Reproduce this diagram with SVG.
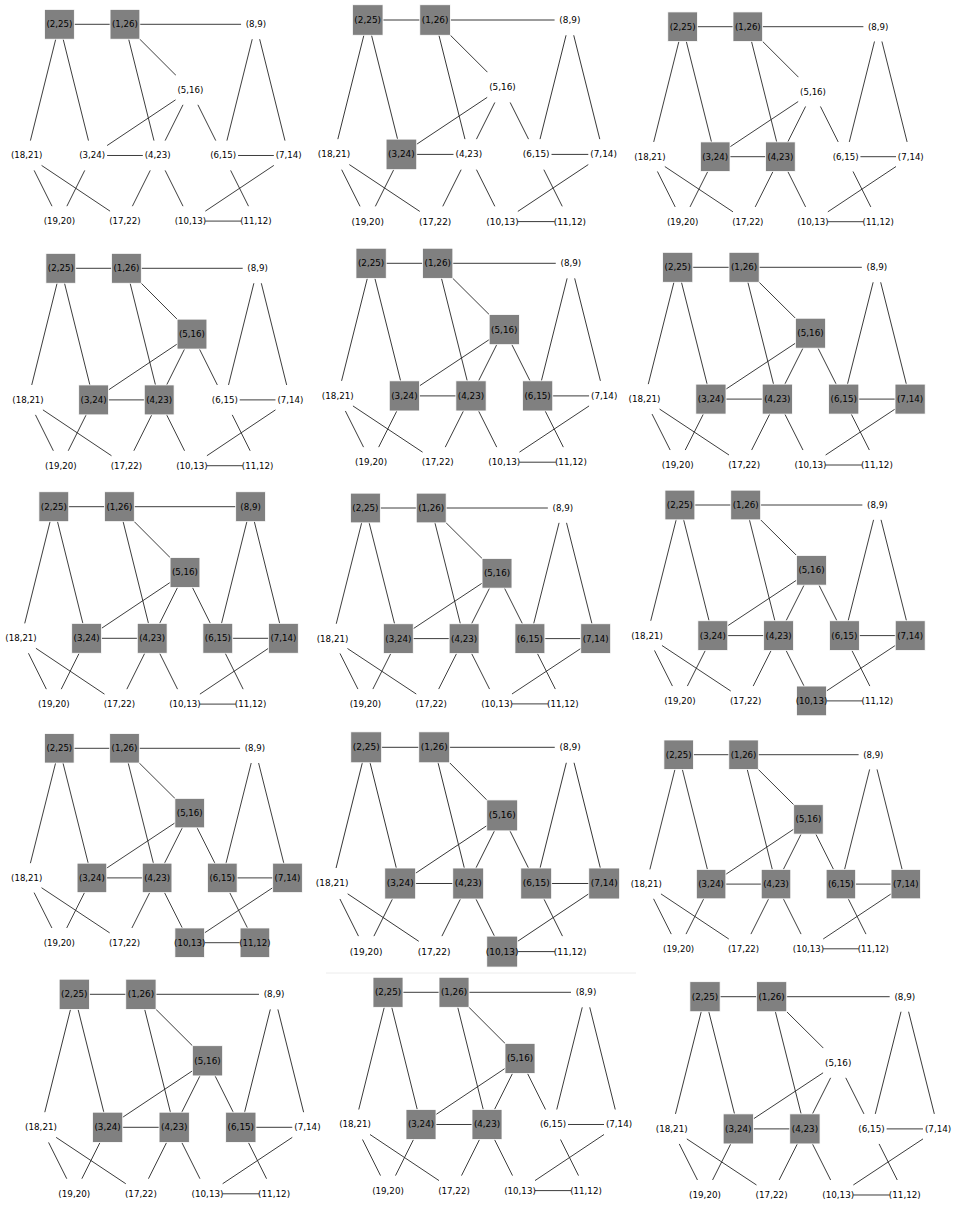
<svg xmlns="http://www.w3.org/2000/svg" width="955" height="1205" viewBox="0 0 955 1205">
<style>
.e line{stroke:#262626;stroke-width:0.9;fill:none}
.w{fill:#ffffff}
.g{fill:#808080;stroke:#ffffff;stroke-width:0.8}
text{font-family:"DejaVu Sans","Liberation Sans",sans-serif;font-size:8.7px;fill:#000;text-anchor:middle;dominant-baseline:central}
</style>
<rect x="0" y="0" width="955" height="1205" fill="#ffffff"/>
<line x1="326" y1="973" x2="636" y2="973" stroke="#ececec" stroke-width="1"/>

<g id="panel-r0c0" transform="translate(26.7,24.3) scale(0.9924,0.9939)">
<g id="r0c0-edges" class="e"><line x1="33" y1="0" x2="99" y2="0"/><line x1="99" y1="0" x2="231" y2="0"/><line x1="33" y1="0" x2="0" y2="132"/><line x1="33" y1="0" x2="66" y2="132"/><line x1="99" y1="0" x2="132" y2="132"/><line x1="99" y1="0" x2="165" y2="66"/><line x1="231" y1="0" x2="198" y2="132"/><line x1="231" y1="0" x2="264" y2="132"/><line x1="165" y1="66" x2="66" y2="132"/><line x1="165" y1="66" x2="132" y2="132"/><line x1="165" y1="66" x2="198" y2="132"/><line x1="66" y1="132" x2="132" y2="132"/><line x1="198" y1="132" x2="264" y2="132"/><line x1="0" y1="132" x2="33" y2="198"/><line x1="0" y1="132" x2="99" y2="198"/><line x1="66" y1="132" x2="33" y2="198"/><line x1="132" y1="132" x2="99" y2="198"/><line x1="132" y1="132" x2="165" y2="198"/><line x1="264" y1="132" x2="165" y2="198"/><line x1="198" y1="132" x2="231" y2="198"/><line x1="165" y1="198" x2="231" y2="198"/></g>
<g id="r0c0-n2_25"><rect class="g" x="18" y="-15" width="30" height="30"/><text x="33" y="0">(2,25)</text></g>
<g id="r0c0-n1_26"><rect class="g" x="84" y="-15" width="30" height="30"/><text x="99" y="0">(1,26)</text></g>
<g id="r0c0-n8_9"><rect class="w" x="216" y="-15" width="30" height="30"/><text x="231" y="0">(8,9)</text></g>
<g id="r0c0-n5_16"><rect class="w" x="150" y="51" width="30" height="30"/><text x="165" y="66">(5,16)</text></g>
<g id="r0c0-n18_21"><rect class="w" x="-15" y="117" width="30" height="30"/><text x="0" y="132">(18,21)</text></g>
<g id="r0c0-n3_24"><rect class="w" x="51" y="117" width="30" height="30"/><text x="66" y="132">(3,24)</text></g>
<g id="r0c0-n4_23"><rect class="w" x="117" y="117" width="30" height="30"/><text x="132" y="132">(4,23)</text></g>
<g id="r0c0-n6_15"><rect class="w" x="183" y="117" width="30" height="30"/><text x="198" y="132">(6,15)</text></g>
<g id="r0c0-n7_14"><rect class="w" x="249" y="117" width="30" height="30"/><text x="264" y="132">(7,14)</text></g>
<g id="r0c0-n19_20"><rect class="w" x="18" y="183" width="30" height="30"/><text x="33" y="198">(19,20)</text></g>
<g id="r0c0-n17_22"><rect class="w" x="84" y="183" width="30" height="30"/><text x="99" y="198">(17,22)</text></g>
<g id="r0c0-n10_13"><rect class="w" x="150" y="183" width="30" height="30"/><text x="165" y="198">(10,13)</text></g>
<g id="r0c0-n11_12"><rect class="w" x="216" y="183" width="30" height="30"/><text x="231" y="198">(11,12)</text></g>
</g>

<g id="panel-r0c1" transform="translate(334,20) scale(1.0212,1.0182)">
<g id="r0c1-edges" class="e"><line x1="33" y1="0" x2="99" y2="0"/><line x1="99" y1="0" x2="231" y2="0"/><line x1="33" y1="0" x2="0" y2="132"/><line x1="33" y1="0" x2="66" y2="132"/><line x1="99" y1="0" x2="132" y2="132"/><line x1="99" y1="0" x2="165" y2="66"/><line x1="231" y1="0" x2="198" y2="132"/><line x1="231" y1="0" x2="264" y2="132"/><line x1="165" y1="66" x2="66" y2="132"/><line x1="165" y1="66" x2="132" y2="132"/><line x1="165" y1="66" x2="198" y2="132"/><line x1="66" y1="132" x2="132" y2="132"/><line x1="198" y1="132" x2="264" y2="132"/><line x1="0" y1="132" x2="33" y2="198"/><line x1="0" y1="132" x2="99" y2="198"/><line x1="66" y1="132" x2="33" y2="198"/><line x1="132" y1="132" x2="99" y2="198"/><line x1="132" y1="132" x2="165" y2="198"/><line x1="264" y1="132" x2="165" y2="198"/><line x1="198" y1="132" x2="231" y2="198"/><line x1="165" y1="198" x2="231" y2="198"/></g>
<g id="r0c1-n2_25"><rect class="g" x="18" y="-15" width="30" height="30"/><text x="33" y="0">(2,25)</text></g>
<g id="r0c1-n1_26"><rect class="g" x="84" y="-15" width="30" height="30"/><text x="99" y="0">(1,26)</text></g>
<g id="r0c1-n8_9"><rect class="w" x="216" y="-15" width="30" height="30"/><text x="231" y="0">(8,9)</text></g>
<g id="r0c1-n5_16"><rect class="w" x="150" y="51" width="30" height="30"/><text x="165" y="66">(5,16)</text></g>
<g id="r0c1-n18_21"><rect class="w" x="-15" y="117" width="30" height="30"/><text x="0" y="132">(18,21)</text></g>
<g id="r0c1-n3_24"><rect class="g" x="51" y="117" width="30" height="30"/><text x="66" y="132">(3,24)</text></g>
<g id="r0c1-n4_23"><rect class="w" x="117" y="117" width="30" height="30"/><text x="132" y="132">(4,23)</text></g>
<g id="r0c1-n6_15"><rect class="w" x="183" y="117" width="30" height="30"/><text x="198" y="132">(6,15)</text></g>
<g id="r0c1-n7_14"><rect class="w" x="249" y="117" width="30" height="30"/><text x="264" y="132">(7,14)</text></g>
<g id="r0c1-n19_20"><rect class="w" x="18" y="183" width="30" height="30"/><text x="33" y="198">(19,20)</text></g>
<g id="r0c1-n17_22"><rect class="w" x="84" y="183" width="30" height="30"/><text x="99" y="198">(17,22)</text></g>
<g id="r0c1-n10_13"><rect class="w" x="150" y="183" width="30" height="30"/><text x="165" y="198">(10,13)</text></g>
<g id="r0c1-n11_12"><rect class="w" x="216" y="183" width="30" height="30"/><text x="231" y="198">(11,12)</text></g>
</g>

<g id="panel-r0c2" transform="translate(650,26.7) scale(0.9879,0.9848)">
<g id="r0c2-edges" class="e"><line x1="33" y1="0" x2="99" y2="0"/><line x1="99" y1="0" x2="231" y2="0"/><line x1="33" y1="0" x2="0" y2="132"/><line x1="33" y1="0" x2="66" y2="132"/><line x1="99" y1="0" x2="132" y2="132"/><line x1="99" y1="0" x2="165" y2="66"/><line x1="231" y1="0" x2="198" y2="132"/><line x1="231" y1="0" x2="264" y2="132"/><line x1="165" y1="66" x2="66" y2="132"/><line x1="165" y1="66" x2="132" y2="132"/><line x1="165" y1="66" x2="198" y2="132"/><line x1="66" y1="132" x2="132" y2="132"/><line x1="198" y1="132" x2="264" y2="132"/><line x1="0" y1="132" x2="33" y2="198"/><line x1="0" y1="132" x2="99" y2="198"/><line x1="66" y1="132" x2="33" y2="198"/><line x1="132" y1="132" x2="99" y2="198"/><line x1="132" y1="132" x2="165" y2="198"/><line x1="264" y1="132" x2="165" y2="198"/><line x1="198" y1="132" x2="231" y2="198"/><line x1="165" y1="198" x2="231" y2="198"/></g>
<g id="r0c2-n2_25"><rect class="g" x="18" y="-15" width="30" height="30"/><text x="33" y="0">(2,25)</text></g>
<g id="r0c2-n1_26"><rect class="g" x="84" y="-15" width="30" height="30"/><text x="99" y="0">(1,26)</text></g>
<g id="r0c2-n8_9"><rect class="w" x="216" y="-15" width="30" height="30"/><text x="231" y="0">(8,9)</text></g>
<g id="r0c2-n5_16"><rect class="w" x="150" y="51" width="30" height="30"/><text x="165" y="66">(5,16)</text></g>
<g id="r0c2-n18_21"><rect class="w" x="-15" y="117" width="30" height="30"/><text x="0" y="132">(18,21)</text></g>
<g id="r0c2-n3_24"><rect class="g" x="51" y="117" width="30" height="30"/><text x="66" y="132">(3,24)</text></g>
<g id="r0c2-n4_23"><rect class="g" x="117" y="117" width="30" height="30"/><text x="132" y="132">(4,23)</text></g>
<g id="r0c2-n6_15"><rect class="w" x="183" y="117" width="30" height="30"/><text x="198" y="132">(6,15)</text></g>
<g id="r0c2-n7_14"><rect class="w" x="249" y="117" width="30" height="30"/><text x="264" y="132">(7,14)</text></g>
<g id="r0c2-n19_20"><rect class="w" x="18" y="183" width="30" height="30"/><text x="33" y="198">(19,20)</text></g>
<g id="r0c2-n17_22"><rect class="w" x="84" y="183" width="30" height="30"/><text x="99" y="198">(17,22)</text></g>
<g id="r0c2-n10_13"><rect class="w" x="150" y="183" width="30" height="30"/><text x="165" y="198">(10,13)</text></g>
<g id="r0c2-n11_12"><rect class="w" x="216" y="183" width="30" height="30"/><text x="231" y="198">(11,12)</text></g>
</g>

<g id="panel-r1c0" transform="translate(28,268.3) scale(0.9939,0.9970)">
<g id="r1c0-edges" class="e"><line x1="33" y1="0" x2="99" y2="0"/><line x1="99" y1="0" x2="231" y2="0"/><line x1="33" y1="0" x2="0" y2="132"/><line x1="33" y1="0" x2="66" y2="132"/><line x1="99" y1="0" x2="132" y2="132"/><line x1="99" y1="0" x2="165" y2="66"/><line x1="231" y1="0" x2="198" y2="132"/><line x1="231" y1="0" x2="264" y2="132"/><line x1="165" y1="66" x2="66" y2="132"/><line x1="165" y1="66" x2="132" y2="132"/><line x1="165" y1="66" x2="198" y2="132"/><line x1="66" y1="132" x2="132" y2="132"/><line x1="198" y1="132" x2="264" y2="132"/><line x1="0" y1="132" x2="33" y2="198"/><line x1="0" y1="132" x2="99" y2="198"/><line x1="66" y1="132" x2="33" y2="198"/><line x1="132" y1="132" x2="99" y2="198"/><line x1="132" y1="132" x2="165" y2="198"/><line x1="264" y1="132" x2="165" y2="198"/><line x1="198" y1="132" x2="231" y2="198"/><line x1="165" y1="198" x2="231" y2="198"/></g>
<g id="r1c0-n2_25"><rect class="g" x="18" y="-15" width="30" height="30"/><text x="33" y="0">(2,25)</text></g>
<g id="r1c0-n1_26"><rect class="g" x="84" y="-15" width="30" height="30"/><text x="99" y="0">(1,26)</text></g>
<g id="r1c0-n8_9"><rect class="w" x="216" y="-15" width="30" height="30"/><text x="231" y="0">(8,9)</text></g>
<g id="r1c0-n5_16"><rect class="g" x="150" y="51" width="30" height="30"/><text x="165" y="66">(5,16)</text></g>
<g id="r1c0-n18_21"><rect class="w" x="-15" y="117" width="30" height="30"/><text x="0" y="132">(18,21)</text></g>
<g id="r1c0-n3_24"><rect class="g" x="51" y="117" width="30" height="30"/><text x="66" y="132">(3,24)</text></g>
<g id="r1c0-n4_23"><rect class="g" x="117" y="117" width="30" height="30"/><text x="132" y="132">(4,23)</text></g>
<g id="r1c0-n6_15"><rect class="w" x="183" y="117" width="30" height="30"/><text x="198" y="132">(6,15)</text></g>
<g id="r1c0-n7_14"><rect class="w" x="249" y="117" width="30" height="30"/><text x="264" y="132">(7,14)</text></g>
<g id="r1c0-n19_20"><rect class="w" x="18" y="183" width="30" height="30"/><text x="33" y="198">(19,20)</text></g>
<g id="r1c0-n17_22"><rect class="w" x="84" y="183" width="30" height="30"/><text x="99" y="198">(17,22)</text></g>
<g id="r1c0-n10_13"><rect class="w" x="150" y="183" width="30" height="30"/><text x="165" y="198">(10,13)</text></g>
<g id="r1c0-n11_12"><rect class="w" x="216" y="183" width="30" height="30"/><text x="231" y="198">(11,12)</text></g>
</g>

<g id="panel-r1c1" transform="translate(337.8,263.3) scale(1.0091,1.0045)">
<g id="r1c1-edges" class="e"><line x1="33" y1="0" x2="99" y2="0"/><line x1="99" y1="0" x2="231" y2="0"/><line x1="33" y1="0" x2="0" y2="132"/><line x1="33" y1="0" x2="66" y2="132"/><line x1="99" y1="0" x2="132" y2="132"/><line x1="99" y1="0" x2="165" y2="66"/><line x1="231" y1="0" x2="198" y2="132"/><line x1="231" y1="0" x2="264" y2="132"/><line x1="165" y1="66" x2="66" y2="132"/><line x1="165" y1="66" x2="132" y2="132"/><line x1="165" y1="66" x2="198" y2="132"/><line x1="66" y1="132" x2="132" y2="132"/><line x1="198" y1="132" x2="264" y2="132"/><line x1="0" y1="132" x2="33" y2="198"/><line x1="0" y1="132" x2="99" y2="198"/><line x1="66" y1="132" x2="33" y2="198"/><line x1="132" y1="132" x2="99" y2="198"/><line x1="132" y1="132" x2="165" y2="198"/><line x1="264" y1="132" x2="165" y2="198"/><line x1="198" y1="132" x2="231" y2="198"/><line x1="165" y1="198" x2="231" y2="198"/></g>
<g id="r1c1-n2_25"><rect class="g" x="18" y="-15" width="30" height="30"/><text x="33" y="0">(2,25)</text></g>
<g id="r1c1-n1_26"><rect class="g" x="84" y="-15" width="30" height="30"/><text x="99" y="0">(1,26)</text></g>
<g id="r1c1-n8_9"><rect class="w" x="216" y="-15" width="30" height="30"/><text x="231" y="0">(8,9)</text></g>
<g id="r1c1-n5_16"><rect class="g" x="150" y="51" width="30" height="30"/><text x="165" y="66">(5,16)</text></g>
<g id="r1c1-n18_21"><rect class="w" x="-15" y="117" width="30" height="30"/><text x="0" y="132">(18,21)</text></g>
<g id="r1c1-n3_24"><rect class="g" x="51" y="117" width="30" height="30"/><text x="66" y="132">(3,24)</text></g>
<g id="r1c1-n4_23"><rect class="g" x="117" y="117" width="30" height="30"/><text x="132" y="132">(4,23)</text></g>
<g id="r1c1-n6_15"><rect class="g" x="183" y="117" width="30" height="30"/><text x="198" y="132">(6,15)</text></g>
<g id="r1c1-n7_14"><rect class="w" x="249" y="117" width="30" height="30"/><text x="264" y="132">(7,14)</text></g>
<g id="r1c1-n19_20"><rect class="w" x="18" y="183" width="30" height="30"/><text x="33" y="198">(19,20)</text></g>
<g id="r1c1-n17_22"><rect class="w" x="84" y="183" width="30" height="30"/><text x="99" y="198">(17,22)</text></g>
<g id="r1c1-n10_13"><rect class="w" x="150" y="183" width="30" height="30"/><text x="165" y="198">(10,13)</text></g>
<g id="r1c1-n11_12"><rect class="w" x="216" y="183" width="30" height="30"/><text x="231" y="198">(11,12)</text></g>
</g>

<g id="panel-r1c2" transform="translate(644.5,267.3) scale(1.0061,0.9985)">
<g id="r1c2-edges" class="e"><line x1="33" y1="0" x2="99" y2="0"/><line x1="99" y1="0" x2="231" y2="0"/><line x1="33" y1="0" x2="0" y2="132"/><line x1="33" y1="0" x2="66" y2="132"/><line x1="99" y1="0" x2="132" y2="132"/><line x1="99" y1="0" x2="165" y2="66"/><line x1="231" y1="0" x2="198" y2="132"/><line x1="231" y1="0" x2="264" y2="132"/><line x1="165" y1="66" x2="66" y2="132"/><line x1="165" y1="66" x2="132" y2="132"/><line x1="165" y1="66" x2="198" y2="132"/><line x1="66" y1="132" x2="132" y2="132"/><line x1="198" y1="132" x2="264" y2="132"/><line x1="0" y1="132" x2="33" y2="198"/><line x1="0" y1="132" x2="99" y2="198"/><line x1="66" y1="132" x2="33" y2="198"/><line x1="132" y1="132" x2="99" y2="198"/><line x1="132" y1="132" x2="165" y2="198"/><line x1="264" y1="132" x2="165" y2="198"/><line x1="198" y1="132" x2="231" y2="198"/><line x1="165" y1="198" x2="231" y2="198"/></g>
<g id="r1c2-n2_25"><rect class="g" x="18" y="-15" width="30" height="30"/><text x="33" y="0">(2,25)</text></g>
<g id="r1c2-n1_26"><rect class="g" x="84" y="-15" width="30" height="30"/><text x="99" y="0">(1,26)</text></g>
<g id="r1c2-n8_9"><rect class="w" x="216" y="-15" width="30" height="30"/><text x="231" y="0">(8,9)</text></g>
<g id="r1c2-n5_16"><rect class="g" x="150" y="51" width="30" height="30"/><text x="165" y="66">(5,16)</text></g>
<g id="r1c2-n18_21"><rect class="w" x="-15" y="117" width="30" height="30"/><text x="0" y="132">(18,21)</text></g>
<g id="r1c2-n3_24"><rect class="g" x="51" y="117" width="30" height="30"/><text x="66" y="132">(3,24)</text></g>
<g id="r1c2-n4_23"><rect class="g" x="117" y="117" width="30" height="30"/><text x="132" y="132">(4,23)</text></g>
<g id="r1c2-n6_15"><rect class="g" x="183" y="117" width="30" height="30"/><text x="198" y="132">(6,15)</text></g>
<g id="r1c2-n7_14"><rect class="g" x="249" y="117" width="30" height="30"/><text x="264" y="132">(7,14)</text></g>
<g id="r1c2-n19_20"><rect class="w" x="18" y="183" width="30" height="30"/><text x="33" y="198">(19,20)</text></g>
<g id="r1c2-n17_22"><rect class="w" x="84" y="183" width="30" height="30"/><text x="99" y="198">(17,22)</text></g>
<g id="r1c2-n10_13"><rect class="w" x="150" y="183" width="30" height="30"/><text x="165" y="198">(10,13)</text></g>
<g id="r1c2-n11_12"><rect class="w" x="216" y="183" width="30" height="30"/><text x="231" y="198">(11,12)</text></g>
</g>

<g id="panel-r2c0" transform="translate(21,506.7) scale(0.9939,0.9970)">
<g id="r2c0-edges" class="e"><line x1="33" y1="0" x2="99" y2="0"/><line x1="99" y1="0" x2="231" y2="0"/><line x1="33" y1="0" x2="0" y2="132"/><line x1="33" y1="0" x2="66" y2="132"/><line x1="99" y1="0" x2="132" y2="132"/><line x1="99" y1="0" x2="165" y2="66"/><line x1="231" y1="0" x2="198" y2="132"/><line x1="231" y1="0" x2="264" y2="132"/><line x1="165" y1="66" x2="66" y2="132"/><line x1="165" y1="66" x2="132" y2="132"/><line x1="165" y1="66" x2="198" y2="132"/><line x1="66" y1="132" x2="132" y2="132"/><line x1="198" y1="132" x2="264" y2="132"/><line x1="0" y1="132" x2="33" y2="198"/><line x1="0" y1="132" x2="99" y2="198"/><line x1="66" y1="132" x2="33" y2="198"/><line x1="132" y1="132" x2="99" y2="198"/><line x1="132" y1="132" x2="165" y2="198"/><line x1="264" y1="132" x2="165" y2="198"/><line x1="198" y1="132" x2="231" y2="198"/><line x1="165" y1="198" x2="231" y2="198"/></g>
<g id="r2c0-n2_25"><rect class="g" x="18" y="-15" width="30" height="30"/><text x="33" y="0">(2,25)</text></g>
<g id="r2c0-n1_26"><rect class="g" x="84" y="-15" width="30" height="30"/><text x="99" y="0">(1,26)</text></g>
<g id="r2c0-n8_9"><rect class="g" x="216" y="-15" width="30" height="30"/><text x="231" y="0">(8,9)</text></g>
<g id="r2c0-n5_16"><rect class="g" x="150" y="51" width="30" height="30"/><text x="165" y="66">(5,16)</text></g>
<g id="r2c0-n18_21"><rect class="w" x="-15" y="117" width="30" height="30"/><text x="0" y="132">(18,21)</text></g>
<g id="r2c0-n3_24"><rect class="g" x="51" y="117" width="30" height="30"/><text x="66" y="132">(3,24)</text></g>
<g id="r2c0-n4_23"><rect class="g" x="117" y="117" width="30" height="30"/><text x="132" y="132">(4,23)</text></g>
<g id="r2c0-n6_15"><rect class="g" x="183" y="117" width="30" height="30"/><text x="198" y="132">(6,15)</text></g>
<g id="r2c0-n7_14"><rect class="g" x="249" y="117" width="30" height="30"/><text x="264" y="132">(7,14)</text></g>
<g id="r2c0-n19_20"><rect class="w" x="18" y="183" width="30" height="30"/><text x="33" y="198">(19,20)</text></g>
<g id="r2c0-n17_22"><rect class="w" x="84" y="183" width="30" height="30"/><text x="99" y="198">(17,22)</text></g>
<g id="r2c0-n10_13"><rect class="w" x="150" y="183" width="30" height="30"/><text x="165" y="198">(10,13)</text></g>
<g id="r2c0-n11_12"><rect class="w" x="216" y="183" width="30" height="30"/><text x="231" y="198">(11,12)</text></g>
</g>

<g id="panel-r2c1" transform="translate(332.5,508) scale(0.9970,0.9894)">
<g id="r2c1-edges" class="e"><line x1="33" y1="0" x2="99" y2="0"/><line x1="99" y1="0" x2="231" y2="0"/><line x1="33" y1="0" x2="0" y2="132"/><line x1="33" y1="0" x2="66" y2="132"/><line x1="99" y1="0" x2="132" y2="132"/><line x1="99" y1="0" x2="165" y2="66"/><line x1="231" y1="0" x2="198" y2="132"/><line x1="231" y1="0" x2="264" y2="132"/><line x1="165" y1="66" x2="66" y2="132"/><line x1="165" y1="66" x2="132" y2="132"/><line x1="165" y1="66" x2="198" y2="132"/><line x1="66" y1="132" x2="132" y2="132"/><line x1="198" y1="132" x2="264" y2="132"/><line x1="0" y1="132" x2="33" y2="198"/><line x1="0" y1="132" x2="99" y2="198"/><line x1="66" y1="132" x2="33" y2="198"/><line x1="132" y1="132" x2="99" y2="198"/><line x1="132" y1="132" x2="165" y2="198"/><line x1="264" y1="132" x2="165" y2="198"/><line x1="198" y1="132" x2="231" y2="198"/><line x1="165" y1="198" x2="231" y2="198"/></g>
<g id="r2c1-n2_25"><rect class="g" x="18" y="-15" width="30" height="30"/><text x="33" y="0">(2,25)</text></g>
<g id="r2c1-n1_26"><rect class="g" x="84" y="-15" width="30" height="30"/><text x="99" y="0">(1,26)</text></g>
<g id="r2c1-n8_9"><rect class="w" x="216" y="-15" width="30" height="30"/><text x="231" y="0">(8,9)</text></g>
<g id="r2c1-n5_16"><rect class="g" x="150" y="51" width="30" height="30"/><text x="165" y="66">(5,16)</text></g>
<g id="r2c1-n18_21"><rect class="w" x="-15" y="117" width="30" height="30"/><text x="0" y="132">(18,21)</text></g>
<g id="r2c1-n3_24"><rect class="g" x="51" y="117" width="30" height="30"/><text x="66" y="132">(3,24)</text></g>
<g id="r2c1-n4_23"><rect class="g" x="117" y="117" width="30" height="30"/><text x="132" y="132">(4,23)</text></g>
<g id="r2c1-n6_15"><rect class="g" x="183" y="117" width="30" height="30"/><text x="198" y="132">(6,15)</text></g>
<g id="r2c1-n7_14"><rect class="g" x="249" y="117" width="30" height="30"/><text x="264" y="132">(7,14)</text></g>
<g id="r2c1-n19_20"><rect class="w" x="18" y="183" width="30" height="30"/><text x="33" y="198">(19,20)</text></g>
<g id="r2c1-n17_22"><rect class="w" x="84" y="183" width="30" height="30"/><text x="99" y="198">(17,22)</text></g>
<g id="r2c1-n10_13"><rect class="w" x="150" y="183" width="30" height="30"/><text x="165" y="198">(10,13)</text></g>
<g id="r2c1-n11_12"><rect class="w" x="216" y="183" width="30" height="30"/><text x="231" y="198">(11,12)</text></g>
</g>

<g id="panel-r2c2" transform="translate(647,505) scale(0.9970,0.9894)">
<g id="r2c2-edges" class="e"><line x1="33" y1="0" x2="99" y2="0"/><line x1="99" y1="0" x2="231" y2="0"/><line x1="33" y1="0" x2="0" y2="132"/><line x1="33" y1="0" x2="66" y2="132"/><line x1="99" y1="0" x2="132" y2="132"/><line x1="99" y1="0" x2="165" y2="66"/><line x1="231" y1="0" x2="198" y2="132"/><line x1="231" y1="0" x2="264" y2="132"/><line x1="165" y1="66" x2="66" y2="132"/><line x1="165" y1="66" x2="132" y2="132"/><line x1="165" y1="66" x2="198" y2="132"/><line x1="66" y1="132" x2="132" y2="132"/><line x1="198" y1="132" x2="264" y2="132"/><line x1="0" y1="132" x2="33" y2="198"/><line x1="0" y1="132" x2="99" y2="198"/><line x1="66" y1="132" x2="33" y2="198"/><line x1="132" y1="132" x2="99" y2="198"/><line x1="132" y1="132" x2="165" y2="198"/><line x1="264" y1="132" x2="165" y2="198"/><line x1="198" y1="132" x2="231" y2="198"/><line x1="165" y1="198" x2="231" y2="198"/></g>
<g id="r2c2-n2_25"><rect class="g" x="18" y="-15" width="30" height="30"/><text x="33" y="0">(2,25)</text></g>
<g id="r2c2-n1_26"><rect class="g" x="84" y="-15" width="30" height="30"/><text x="99" y="0">(1,26)</text></g>
<g id="r2c2-n8_9"><rect class="w" x="216" y="-15" width="30" height="30"/><text x="231" y="0">(8,9)</text></g>
<g id="r2c2-n5_16"><rect class="g" x="150" y="51" width="30" height="30"/><text x="165" y="66">(5,16)</text></g>
<g id="r2c2-n18_21"><rect class="w" x="-15" y="117" width="30" height="30"/><text x="0" y="132">(18,21)</text></g>
<g id="r2c2-n3_24"><rect class="g" x="51" y="117" width="30" height="30"/><text x="66" y="132">(3,24)</text></g>
<g id="r2c2-n4_23"><rect class="g" x="117" y="117" width="30" height="30"/><text x="132" y="132">(4,23)</text></g>
<g id="r2c2-n6_15"><rect class="g" x="183" y="117" width="30" height="30"/><text x="198" y="132">(6,15)</text></g>
<g id="r2c2-n7_14"><rect class="g" x="249" y="117" width="30" height="30"/><text x="264" y="132">(7,14)</text></g>
<g id="r2c2-n19_20"><rect class="w" x="18" y="183" width="30" height="30"/><text x="33" y="198">(19,20)</text></g>
<g id="r2c2-n17_22"><rect class="w" x="84" y="183" width="30" height="30"/><text x="99" y="198">(17,22)</text></g>
<g id="r2c2-n10_13"><rect class="g" x="150" y="183" width="30" height="30"/><text x="165" y="198">(10,13)</text></g>
<g id="r2c2-n11_12"><rect class="w" x="216" y="183" width="30" height="30"/><text x="231" y="198">(11,12)</text></g>
</g>

<g id="panel-r3c0" transform="translate(26.7,748.3) scale(0.9879,0.9818)">
<g id="r3c0-edges" class="e"><line x1="33" y1="0" x2="99" y2="0"/><line x1="99" y1="0" x2="231" y2="0"/><line x1="33" y1="0" x2="0" y2="132"/><line x1="33" y1="0" x2="66" y2="132"/><line x1="99" y1="0" x2="132" y2="132"/><line x1="99" y1="0" x2="165" y2="66"/><line x1="231" y1="0" x2="198" y2="132"/><line x1="231" y1="0" x2="264" y2="132"/><line x1="165" y1="66" x2="66" y2="132"/><line x1="165" y1="66" x2="132" y2="132"/><line x1="165" y1="66" x2="198" y2="132"/><line x1="66" y1="132" x2="132" y2="132"/><line x1="198" y1="132" x2="264" y2="132"/><line x1="0" y1="132" x2="33" y2="198"/><line x1="0" y1="132" x2="99" y2="198"/><line x1="66" y1="132" x2="33" y2="198"/><line x1="132" y1="132" x2="99" y2="198"/><line x1="132" y1="132" x2="165" y2="198"/><line x1="264" y1="132" x2="165" y2="198"/><line x1="198" y1="132" x2="231" y2="198"/><line x1="165" y1="198" x2="231" y2="198"/></g>
<g id="r3c0-n2_25"><rect class="g" x="18" y="-15" width="30" height="30"/><text x="33" y="0">(2,25)</text></g>
<g id="r3c0-n1_26"><rect class="g" x="84" y="-15" width="30" height="30"/><text x="99" y="0">(1,26)</text></g>
<g id="r3c0-n8_9"><rect class="w" x="216" y="-15" width="30" height="30"/><text x="231" y="0">(8,9)</text></g>
<g id="r3c0-n5_16"><rect class="g" x="150" y="51" width="30" height="30"/><text x="165" y="66">(5,16)</text></g>
<g id="r3c0-n18_21"><rect class="w" x="-15" y="117" width="30" height="30"/><text x="0" y="132">(18,21)</text></g>
<g id="r3c0-n3_24"><rect class="g" x="51" y="117" width="30" height="30"/><text x="66" y="132">(3,24)</text></g>
<g id="r3c0-n4_23"><rect class="g" x="117" y="117" width="30" height="30"/><text x="132" y="132">(4,23)</text></g>
<g id="r3c0-n6_15"><rect class="g" x="183" y="117" width="30" height="30"/><text x="198" y="132">(6,15)</text></g>
<g id="r3c0-n7_14"><rect class="g" x="249" y="117" width="30" height="30"/><text x="264" y="132">(7,14)</text></g>
<g id="r3c0-n19_20"><rect class="w" x="18" y="183" width="30" height="30"/><text x="33" y="198">(19,20)</text></g>
<g id="r3c0-n17_22"><rect class="w" x="84" y="183" width="30" height="30"/><text x="99" y="198">(17,22)</text></g>
<g id="r3c0-n10_13"><rect class="g" x="150" y="183" width="30" height="30"/><text x="165" y="198">(10,13)</text></g>
<g id="r3c0-n11_12"><rect class="g" x="216" y="183" width="30" height="30"/><text x="231" y="198">(11,12)</text></g>
</g>

<g id="panel-r3c1" transform="translate(332.2,747.3) scale(1.0303,1.0318)">
<g id="r3c1-edges" class="e"><line x1="33" y1="0" x2="99" y2="0"/><line x1="99" y1="0" x2="231" y2="0"/><line x1="33" y1="0" x2="0" y2="132"/><line x1="33" y1="0" x2="66" y2="132"/><line x1="99" y1="0" x2="132" y2="132"/><line x1="99" y1="0" x2="165" y2="66"/><line x1="231" y1="0" x2="198" y2="132"/><line x1="231" y1="0" x2="264" y2="132"/><line x1="165" y1="66" x2="66" y2="132"/><line x1="165" y1="66" x2="132" y2="132"/><line x1="165" y1="66" x2="198" y2="132"/><line x1="66" y1="132" x2="132" y2="132"/><line x1="198" y1="132" x2="264" y2="132"/><line x1="0" y1="132" x2="33" y2="198"/><line x1="0" y1="132" x2="99" y2="198"/><line x1="66" y1="132" x2="33" y2="198"/><line x1="132" y1="132" x2="99" y2="198"/><line x1="132" y1="132" x2="165" y2="198"/><line x1="264" y1="132" x2="165" y2="198"/><line x1="198" y1="132" x2="231" y2="198"/><line x1="165" y1="198" x2="231" y2="198"/></g>
<g id="r3c1-n2_25"><rect class="g" x="18" y="-15" width="30" height="30"/><text x="33" y="0">(2,25)</text></g>
<g id="r3c1-n1_26"><rect class="g" x="84" y="-15" width="30" height="30"/><text x="99" y="0">(1,26)</text></g>
<g id="r3c1-n8_9"><rect class="w" x="216" y="-15" width="30" height="30"/><text x="231" y="0">(8,9)</text></g>
<g id="r3c1-n5_16"><rect class="g" x="150" y="51" width="30" height="30"/><text x="165" y="66">(5,16)</text></g>
<g id="r3c1-n18_21"><rect class="w" x="-15" y="117" width="30" height="30"/><text x="0" y="132">(18,21)</text></g>
<g id="r3c1-n3_24"><rect class="g" x="51" y="117" width="30" height="30"/><text x="66" y="132">(3,24)</text></g>
<g id="r3c1-n4_23"><rect class="g" x="117" y="117" width="30" height="30"/><text x="132" y="132">(4,23)</text></g>
<g id="r3c1-n6_15"><rect class="g" x="183" y="117" width="30" height="30"/><text x="198" y="132">(6,15)</text></g>
<g id="r3c1-n7_14"><rect class="g" x="249" y="117" width="30" height="30"/><text x="264" y="132">(7,14)</text></g>
<g id="r3c1-n19_20"><rect class="w" x="18" y="183" width="30" height="30"/><text x="33" y="198">(19,20)</text></g>
<g id="r3c1-n17_22"><rect class="w" x="84" y="183" width="30" height="30"/><text x="99" y="198">(17,22)</text></g>
<g id="r3c1-n10_13"><rect class="g" x="150" y="183" width="30" height="30"/><text x="165" y="198">(10,13)</text></g>
<g id="r3c1-n11_12"><rect class="w" x="216" y="183" width="30" height="30"/><text x="231" y="198">(11,12)</text></g>
</g>

<g id="panel-r3c2" transform="translate(646.2,754.7) scale(0.9833,0.9803)">
<g id="r3c2-edges" class="e"><line x1="33" y1="0" x2="99" y2="0"/><line x1="99" y1="0" x2="231" y2="0"/><line x1="33" y1="0" x2="0" y2="132"/><line x1="33" y1="0" x2="66" y2="132"/><line x1="99" y1="0" x2="132" y2="132"/><line x1="99" y1="0" x2="165" y2="66"/><line x1="231" y1="0" x2="198" y2="132"/><line x1="231" y1="0" x2="264" y2="132"/><line x1="165" y1="66" x2="66" y2="132"/><line x1="165" y1="66" x2="132" y2="132"/><line x1="165" y1="66" x2="198" y2="132"/><line x1="66" y1="132" x2="132" y2="132"/><line x1="198" y1="132" x2="264" y2="132"/><line x1="0" y1="132" x2="33" y2="198"/><line x1="0" y1="132" x2="99" y2="198"/><line x1="66" y1="132" x2="33" y2="198"/><line x1="132" y1="132" x2="99" y2="198"/><line x1="132" y1="132" x2="165" y2="198"/><line x1="264" y1="132" x2="165" y2="198"/><line x1="198" y1="132" x2="231" y2="198"/><line x1="165" y1="198" x2="231" y2="198"/></g>
<g id="r3c2-n2_25"><rect class="g" x="18" y="-15" width="30" height="30"/><text x="33" y="0">(2,25)</text></g>
<g id="r3c2-n1_26"><rect class="g" x="84" y="-15" width="30" height="30"/><text x="99" y="0">(1,26)</text></g>
<g id="r3c2-n8_9"><rect class="w" x="216" y="-15" width="30" height="30"/><text x="231" y="0">(8,9)</text></g>
<g id="r3c2-n5_16"><rect class="g" x="150" y="51" width="30" height="30"/><text x="165" y="66">(5,16)</text></g>
<g id="r3c2-n18_21"><rect class="w" x="-15" y="117" width="30" height="30"/><text x="0" y="132">(18,21)</text></g>
<g id="r3c2-n3_24"><rect class="g" x="51" y="117" width="30" height="30"/><text x="66" y="132">(3,24)</text></g>
<g id="r3c2-n4_23"><rect class="g" x="117" y="117" width="30" height="30"/><text x="132" y="132">(4,23)</text></g>
<g id="r3c2-n6_15"><rect class="g" x="183" y="117" width="30" height="30"/><text x="198" y="132">(6,15)</text></g>
<g id="r3c2-n7_14"><rect class="g" x="249" y="117" width="30" height="30"/><text x="264" y="132">(7,14)</text></g>
<g id="r3c2-n19_20"><rect class="w" x="18" y="183" width="30" height="30"/><text x="33" y="198">(19,20)</text></g>
<g id="r3c2-n17_22"><rect class="w" x="84" y="183" width="30" height="30"/><text x="99" y="198">(17,22)</text></g>
<g id="r3c2-n10_13"><rect class="w" x="150" y="183" width="30" height="30"/><text x="165" y="198">(10,13)</text></g>
<g id="r3c2-n11_12"><rect class="w" x="216" y="183" width="30" height="30"/><text x="231" y="198">(11,12)</text></g>
</g>

<g id="panel-r4c0" transform="translate(41,994.3) scale(1.0091,1.0076)">
<g id="r4c0-edges" class="e"><line x1="33" y1="0" x2="99" y2="0"/><line x1="99" y1="0" x2="231" y2="0"/><line x1="33" y1="0" x2="0" y2="132"/><line x1="33" y1="0" x2="66" y2="132"/><line x1="99" y1="0" x2="132" y2="132"/><line x1="99" y1="0" x2="165" y2="66"/><line x1="231" y1="0" x2="198" y2="132"/><line x1="231" y1="0" x2="264" y2="132"/><line x1="165" y1="66" x2="66" y2="132"/><line x1="165" y1="66" x2="132" y2="132"/><line x1="165" y1="66" x2="198" y2="132"/><line x1="66" y1="132" x2="132" y2="132"/><line x1="198" y1="132" x2="264" y2="132"/><line x1="0" y1="132" x2="33" y2="198"/><line x1="0" y1="132" x2="99" y2="198"/><line x1="66" y1="132" x2="33" y2="198"/><line x1="132" y1="132" x2="99" y2="198"/><line x1="132" y1="132" x2="165" y2="198"/><line x1="264" y1="132" x2="165" y2="198"/><line x1="198" y1="132" x2="231" y2="198"/><line x1="165" y1="198" x2="231" y2="198"/></g>
<g id="r4c0-n2_25"><rect class="g" x="18" y="-15" width="30" height="30"/><text x="33" y="0">(2,25)</text></g>
<g id="r4c0-n1_26"><rect class="g" x="84" y="-15" width="30" height="30"/><text x="99" y="0">(1,26)</text></g>
<g id="r4c0-n8_9"><rect class="w" x="216" y="-15" width="30" height="30"/><text x="231" y="0">(8,9)</text></g>
<g id="r4c0-n5_16"><rect class="g" x="150" y="51" width="30" height="30"/><text x="165" y="66">(5,16)</text></g>
<g id="r4c0-n18_21"><rect class="w" x="-15" y="117" width="30" height="30"/><text x="0" y="132">(18,21)</text></g>
<g id="r4c0-n3_24"><rect class="g" x="51" y="117" width="30" height="30"/><text x="66" y="132">(3,24)</text></g>
<g id="r4c0-n4_23"><rect class="g" x="117" y="117" width="30" height="30"/><text x="132" y="132">(4,23)</text></g>
<g id="r4c0-n6_15"><rect class="g" x="183" y="117" width="30" height="30"/><text x="198" y="132">(6,15)</text></g>
<g id="r4c0-n7_14"><rect class="w" x="249" y="117" width="30" height="30"/><text x="264" y="132">(7,14)</text></g>
<g id="r4c0-n19_20"><rect class="w" x="18" y="183" width="30" height="30"/><text x="33" y="198">(19,20)</text></g>
<g id="r4c0-n17_22"><rect class="w" x="84" y="183" width="30" height="30"/><text x="99" y="198">(17,22)</text></g>
<g id="r4c0-n10_13"><rect class="w" x="150" y="183" width="30" height="30"/><text x="165" y="198">(10,13)</text></g>
<g id="r4c0-n11_12"><rect class="w" x="216" y="183" width="30" height="30"/><text x="231" y="198">(11,12)</text></g>
</g>

<g id="panel-r4c1" transform="translate(355,992.3) scale(1.0,1.0015)">
<g id="r4c1-edges" class="e"><line x1="33" y1="0" x2="99" y2="0"/><line x1="99" y1="0" x2="231" y2="0"/><line x1="33" y1="0" x2="0" y2="132"/><line x1="33" y1="0" x2="66" y2="132"/><line x1="99" y1="0" x2="132" y2="132"/><line x1="99" y1="0" x2="165" y2="66"/><line x1="231" y1="0" x2="198" y2="132"/><line x1="231" y1="0" x2="264" y2="132"/><line x1="165" y1="66" x2="66" y2="132"/><line x1="165" y1="66" x2="132" y2="132"/><line x1="165" y1="66" x2="198" y2="132"/><line x1="66" y1="132" x2="132" y2="132"/><line x1="198" y1="132" x2="264" y2="132"/><line x1="0" y1="132" x2="33" y2="198"/><line x1="0" y1="132" x2="99" y2="198"/><line x1="66" y1="132" x2="33" y2="198"/><line x1="132" y1="132" x2="99" y2="198"/><line x1="132" y1="132" x2="165" y2="198"/><line x1="264" y1="132" x2="165" y2="198"/><line x1="198" y1="132" x2="231" y2="198"/><line x1="165" y1="198" x2="231" y2="198"/></g>
<g id="r4c1-n2_25"><rect class="g" x="18" y="-15" width="30" height="30"/><text x="33" y="0">(2,25)</text></g>
<g id="r4c1-n1_26"><rect class="g" x="84" y="-15" width="30" height="30"/><text x="99" y="0">(1,26)</text></g>
<g id="r4c1-n8_9"><rect class="w" x="216" y="-15" width="30" height="30"/><text x="231" y="0">(8,9)</text></g>
<g id="r4c1-n5_16"><rect class="g" x="150" y="51" width="30" height="30"/><text x="165" y="66">(5,16)</text></g>
<g id="r4c1-n18_21"><rect class="w" x="-15" y="117" width="30" height="30"/><text x="0" y="132">(18,21)</text></g>
<g id="r4c1-n3_24"><rect class="g" x="51" y="117" width="30" height="30"/><text x="66" y="132">(3,24)</text></g>
<g id="r4c1-n4_23"><rect class="g" x="117" y="117" width="30" height="30"/><text x="132" y="132">(4,23)</text></g>
<g id="r4c1-n6_15"><rect class="w" x="183" y="117" width="30" height="30"/><text x="198" y="132">(6,15)</text></g>
<g id="r4c1-n7_14"><rect class="w" x="249" y="117" width="30" height="30"/><text x="264" y="132">(7,14)</text></g>
<g id="r4c1-n19_20"><rect class="w" x="18" y="183" width="30" height="30"/><text x="33" y="198">(19,20)</text></g>
<g id="r4c1-n17_22"><rect class="w" x="84" y="183" width="30" height="30"/><text x="99" y="198">(17,22)</text></g>
<g id="r4c1-n10_13"><rect class="w" x="150" y="183" width="30" height="30"/><text x="165" y="198">(10,13)</text></g>
<g id="r4c1-n11_12"><rect class="w" x="216" y="183" width="30" height="30"/><text x="231" y="198">(11,12)</text></g>
</g>

<g id="panel-r4c2" transform="translate(671.7,996.7) scale(1.0091,1.0015)">
<g id="r4c2-edges" class="e"><line x1="33" y1="0" x2="99" y2="0"/><line x1="99" y1="0" x2="231" y2="0"/><line x1="33" y1="0" x2="0" y2="132"/><line x1="33" y1="0" x2="66" y2="132"/><line x1="99" y1="0" x2="132" y2="132"/><line x1="99" y1="0" x2="165" y2="66"/><line x1="231" y1="0" x2="198" y2="132"/><line x1="231" y1="0" x2="264" y2="132"/><line x1="165" y1="66" x2="66" y2="132"/><line x1="165" y1="66" x2="132" y2="132"/><line x1="165" y1="66" x2="198" y2="132"/><line x1="66" y1="132" x2="132" y2="132"/><line x1="198" y1="132" x2="264" y2="132"/><line x1="0" y1="132" x2="33" y2="198"/><line x1="0" y1="132" x2="99" y2="198"/><line x1="66" y1="132" x2="33" y2="198"/><line x1="132" y1="132" x2="99" y2="198"/><line x1="132" y1="132" x2="165" y2="198"/><line x1="264" y1="132" x2="165" y2="198"/><line x1="198" y1="132" x2="231" y2="198"/><line x1="165" y1="198" x2="231" y2="198"/></g>
<g id="r4c2-n2_25"><rect class="g" x="18" y="-15" width="30" height="30"/><text x="33" y="0">(2,25)</text></g>
<g id="r4c2-n1_26"><rect class="g" x="84" y="-15" width="30" height="30"/><text x="99" y="0">(1,26)</text></g>
<g id="r4c2-n8_9"><rect class="w" x="216" y="-15" width="30" height="30"/><text x="231" y="0">(8,9)</text></g>
<g id="r4c2-n5_16"><rect class="w" x="150" y="51" width="30" height="30"/><text x="165" y="66">(5,16)</text></g>
<g id="r4c2-n18_21"><rect class="w" x="-15" y="117" width="30" height="30"/><text x="0" y="132">(18,21)</text></g>
<g id="r4c2-n3_24"><rect class="g" x="51" y="117" width="30" height="30"/><text x="66" y="132">(3,24)</text></g>
<g id="r4c2-n4_23"><rect class="g" x="117" y="117" width="30" height="30"/><text x="132" y="132">(4,23)</text></g>
<g id="r4c2-n6_15"><rect class="w" x="183" y="117" width="30" height="30"/><text x="198" y="132">(6,15)</text></g>
<g id="r4c2-n7_14"><rect class="w" x="249" y="117" width="30" height="30"/><text x="264" y="132">(7,14)</text></g>
<g id="r4c2-n19_20"><rect class="w" x="18" y="183" width="30" height="30"/><text x="33" y="198">(19,20)</text></g>
<g id="r4c2-n17_22"><rect class="w" x="84" y="183" width="30" height="30"/><text x="99" y="198">(17,22)</text></g>
<g id="r4c2-n10_13"><rect class="w" x="150" y="183" width="30" height="30"/><text x="165" y="198">(10,13)</text></g>
<g id="r4c2-n11_12"><rect class="w" x="216" y="183" width="30" height="30"/><text x="231" y="198">(11,12)</text></g>
</g>
</svg>
